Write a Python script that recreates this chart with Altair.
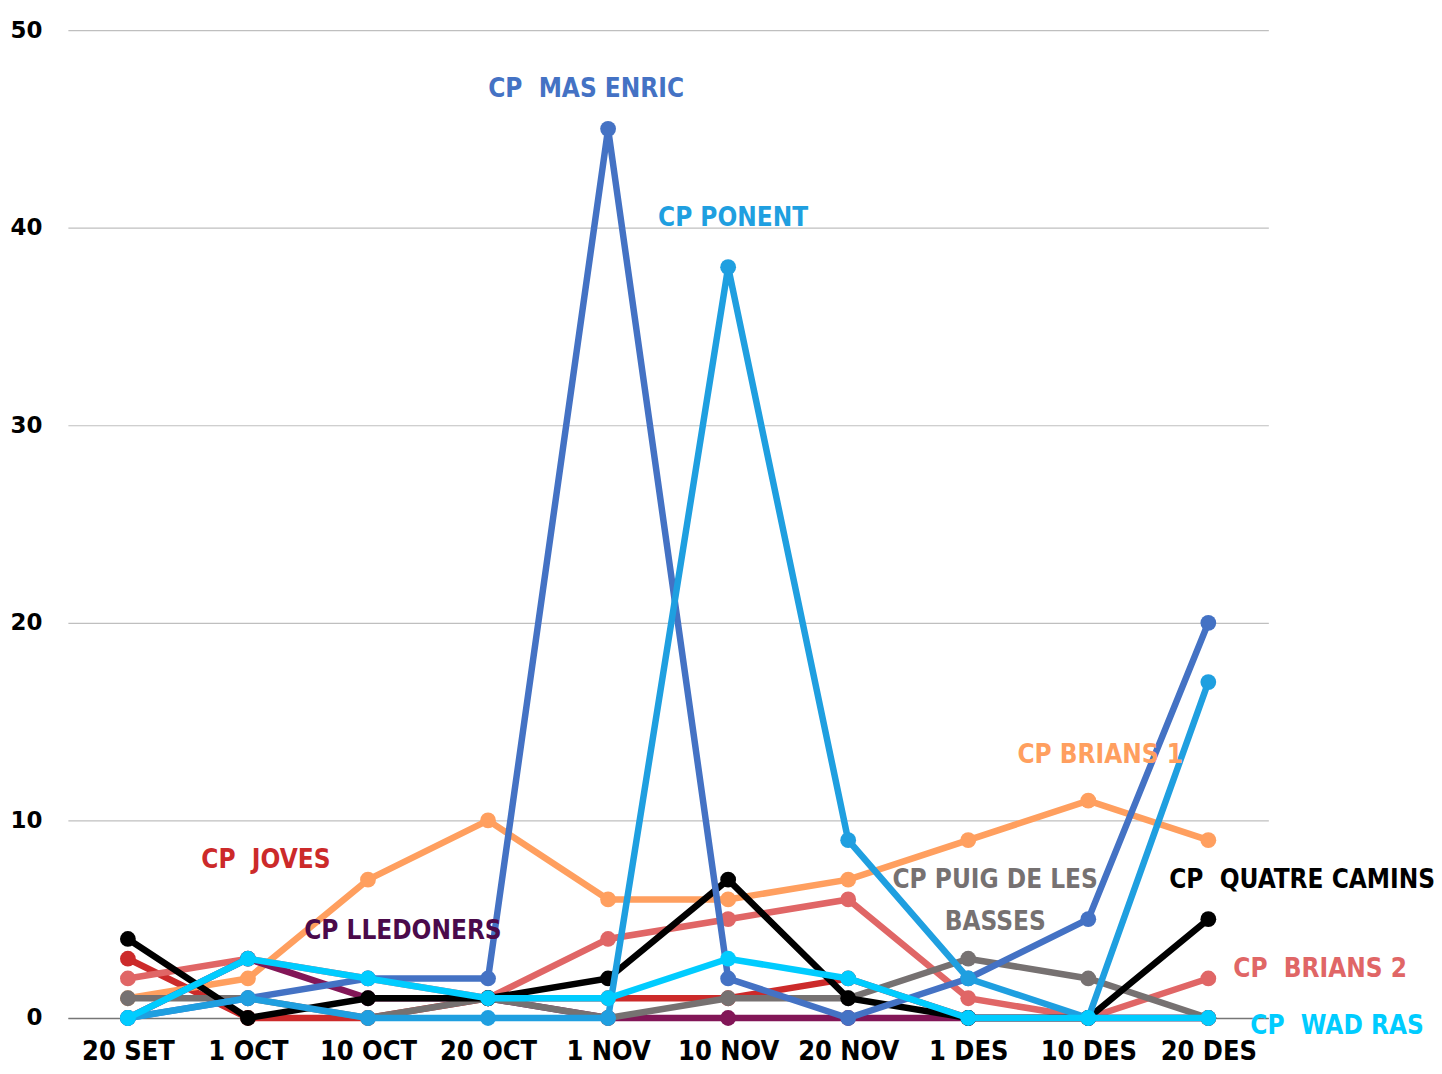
import altair as alt
import pandas as pd

dates = ["20 SET", "1 OCT", "10 OCT", "20 OCT", "1 NOV", "10 NOV", "20 NOV", "1 DES", "10 DES", "20 DES"]

series_names = ["CP JOVES", "CP BRIANS 2", "CP BRIANS 1", "CP LLEDONERS", "CP PUIG DE LES BASSES",
                "CP QUATRE CAMINS", "CP MAS ENRIC", "CP PONENT", "CP WAD RAS"]
joves = [3, 0, 0, 1, 1, 1, 2, 0, 0, 0]
brians2 = [2, 3, 2, 1, 4, 5, 6, 1, 0, 2]
brians1 = [1, 2, 7, 10, 6, 6, 7, 9, 11, 9]
lledoners = [0, 3, 1, 1, 0, 0, 0, 0, 0, 0]
puig = [1, 1, 0, 1, 0, 1, 1, 3, 2, 0]
quatre = [4, 0, 1, 1, 2, 7, 1, 0, 0, 5]
mas_enric = [0, 1, 2, 2, 45, 2, 0, 2, 5, 20]
ponent = [0, 1, 0, 0, 0, 38, 9, 2, 0, 17]
wad_ras = [0, 3, 2, 1, 1, 3, 2, 0, 0, 0]
values = [joves, brians2, brians1, lledoners, puig, quatre, mas_enric, ponent, wad_ras]

line_colors = ["#CC2A2A", "#E06666", "#FF9F5F", "#821657", "#767171",
               "#000000", "#4472C4", "#1F9FE0", "#00CCFF"]

label_texts = ["CP\u00a0 MAS ENRIC", "CP PONENT", "CP BRIANS 1", "CP\u00a0 JOVES", "CP LLEDONERS",
               "CP PUIG DE LES", "BASSES", "CP\u00a0 QUATRE CAMINS", "CP\u00a0 BRIANS 2", "CP\u00a0 WAD RAS"]
label_colors = ["#4472C4", "#1F9FE0", "#FF9F5F", "#CC2A2A", "#4B0A4B",
                "#767171", "#767171", "#000000", "#E06666", "#00CCFF"]

# annotation anchors (category, value, pixel offset)
label_anchor = ["1 NOV", "10 NOV", "10 DES", "1 OCT", "10 OCT", "1 DES", "1 DES", "20 DES", "20 DES", "20 DES"]
label_value = [47, 40.5, 13.3, 8, 4.4, 7, 4.85, 7, 2.5, -0.4]
label_dx = [-22, 5, 12, 18, 35, 27, 27, 94, 112, 129]

FONT = "DejaVu Sans Condensed"

x_enc = alt.X("date:N", sort=dates,
              scale=alt.Scale(type="point", padding=0.5),
              axis=alt.Axis(title=None, labelAngle=0, labelFont=FONT, labelFontSize=27,
                            labelFontWeight="bold", labelColor="#000000", labelPadding=21,
                            ticks=False, domainColor="#767676", domainWidth=1.5, grid=False))
y_scale = alt.Scale(domain=[0, 50], nice=False)
y_enc = alt.Y("v:Q", scale=y_scale,
              axis=alt.Axis(title=None, values=[0, 10, 20, 30, 40, 50], labelFont="DejaVu Sans",
                            labelFontSize=23, labelFontWeight="bold", labelColor="#000000",
                            labelPadding=26, ticks=False, domain=False,
                            gridColor="#BFBFBF", gridWidth=1.2))

layers = []
for i, name in enumerate(series_names):
    df = pd.DataFrame({"date": dates, "v": values[i], "s": name})
    base = alt.Chart(df).encode(x=x_enc, y=y_enc)
    layers.append(base.mark_line(color=line_colors[i], strokeWidth=6.5))
    layers.append(base.mark_circle(color=line_colors[i], size=250, opacity=1))

for i, t in enumerate(label_texts):
    ldf = pd.DataFrame({"date": [label_anchor[i]], "v": [label_value[i]], "t": [t]})
    layers.append(
        alt.Chart(ldf).mark_text(font=FONT, fontSize=26, fontWeight="bold", color=label_colors[i],
                                 dx=label_dx[i], align="center", baseline="middle", clip=False)
        .encode(x=alt.X("date:N", sort=dates), y=alt.Y("v:Q", scale=y_scale), text="t:N")
    )

chart = alt.layer(*layers).properties(
    width=1203, height=990,
    autosize=alt.AutoSizeParams(type="none"),
    padding={"left": 60, "top": 21, "right": 166, "bottom": 54},
).configure(background="#FFFFFF").configure_view(stroke=None)

chart.save("out.html", embed_options={"renderer": "svg", "actions": False})
